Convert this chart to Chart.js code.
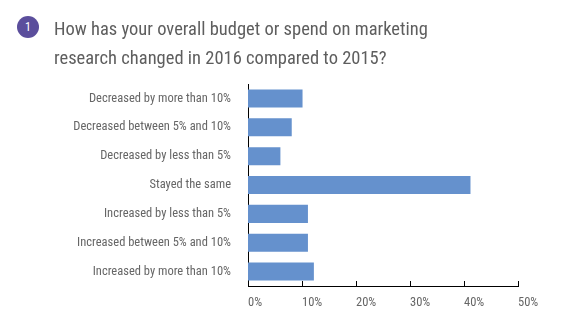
<!DOCTYPE html>
<html>
<head>
<meta charset="utf-8">
<script src="https://cdn.jsdelivr.net/npm/chart.js@4"></script>
<style>
  body { margin: 0; background: #fff; }
  #wrap { position: relative; width: 571px; height: 322px; }
  #num {
    position: absolute; left: 17px; top: 16px; width: 22px; height: 22px;
    border-radius: 50%; background: #5b4e9c; color: #fff;
    font: 12px "Roboto Condensed", sans-serif; line-height: 22px; text-align: center;
  }
  #title {
    position: absolute; left: 54px; top: 15px; white-space: nowrap;
    font: 18.5px "Roboto Condensed", sans-serif; line-height: 29px; color: #5e5e5e;
  }
  canvas { position: absolute; left: 0; top: 0; }
</style>
</head>
<body>
<div id="wrap">
  <canvas id="chart" width="571" height="322"></canvas>
  <div id="num">1</div>
  <div id="title">How has your overall budget or spend on marketing<br>research changed in 2016 compared to 2015?</div>
</div>
<script>
// data
const categories = [
  'Decreased by more than 10%',
  'Decreased between 5% and 10%',
  'Decreased by less than 5%',
  'Stayed the same',
  'Increased by less than 5%',
  'Increased between 5% and 10%',
  'Increased by more than 10%'
];
const shares = [10.1, 8.1, 6.0, 41.2, 11.1, 11.1, 12.2];
const xTicks = [0, 10, 20, 30, 40, 50];

const labelFont = { family: '"Roboto Condensed", sans-serif', size: 12.5 };

//short ticks drawn inside the plot, on the x axis line
const innerTicks = {
    id: 'innerTicks',
    afterDraw: (chart) => {
        const {ctx, chartArea: {bottom}, scales: {x}} = chart;
        ctx.save();
        ctx.strokeStyle = '#000';
        ctx.lineWidth = 1;
        ctx.beginPath();
        xTicks.slice(1).forEach(v => {
            const px = Math.round(x.getPixelForValue(v)) + 0.5;
            ctx.moveTo(px, bottom - 5);
            ctx.lineTo(px, bottom);
        });
        ctx.stroke();
        ctx.restore();
    }
};

new Chart(document.getElementById('chart'), {
    type: 'bar',
    data: {
        labels: categories,
        datasets: [{
            data: shares,
            backgroundColor: '#6591cd',
            barPercentage: 1,
            categoryPercentage: 0.625
        }]
    },
    options: {
        indexAxis: 'y',
        responsive: false,
        animation: false,
        layout: { padding: { top: 84, right: 53, left: 0, bottom: 0 } },
        scales: {
            x: {
                min: 0,
                max: 50,
                afterBuildTicks: (scale) => { scale.ticks = xTicks.map(v => ({ value: v })); },
                afterFit: (scale) => { scale.height = 36; },
                grid: { display: false, drawTicks: false },
                border: { display: true, color: '#000', width: 1 },
                ticks: {
                    align: 'start',
                    padding: 9,
                    color: '#666',
                    font: labelFont,
                    callback: v => v + '%'
                }
            },
            y: {
                afterFit: (scale) => { scale.width = 248; },
                grid: { display: false, drawTicks: false },
                border: { display: true, color: '#000', width: 1 },
                ticks: { padding: 17, color: '#666', font: labelFont }
            }
        },
        plugins: {
            legend: { display: false },
            tooltip: { enabled: false }
        }
    },
    plugins: [innerTicks]
});
</script>
</body>
</html>
